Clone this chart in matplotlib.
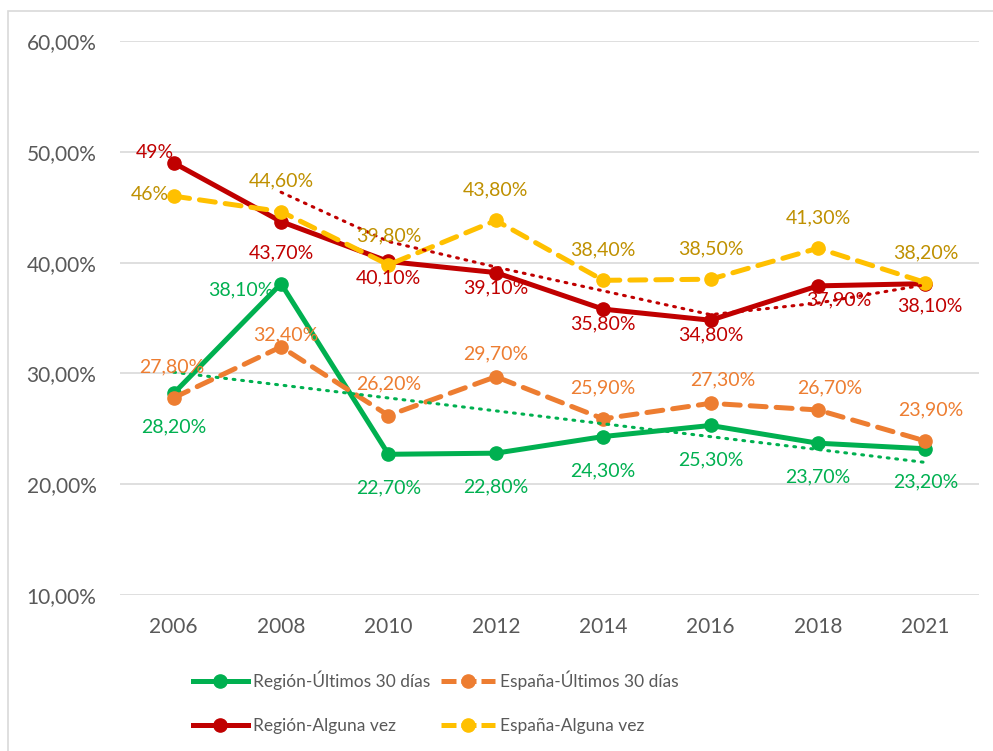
import numpy as np
import matplotlib.pyplot as plt
from matplotlib.lines import Line2D
from matplotlib.patches import Rectangle

plt.rcParams['font.family'] = ['Lato', 'DejaVu Sans']

# Datos
anios = ['2006', '2008', '2010', '2012', '2014', '2016', '2018', '2021']
region_30 = [28.2, 38.1, 22.7, 22.8, 24.3, 25.3, 23.7, 23.2]
espana_30 = [27.8, 32.4, 26.2, 29.7, 25.9, 27.3, 26.7, 23.9]
region_alguna = [49.0, 43.7, 40.1, 39.1, 35.8, 34.8, 37.9, 38.1]
espana_alguna = [46.0, 44.6, 39.8, 43.8, 38.4, 38.5, 41.3, 38.2]

# Colores
c_verde = '#00B050'
c_naranja = '#ED7D31'
c_rojo = '#C00000'
c_amarillo = '#FFC000'
c_texto = '#595959'

fig = plt.figure(figsize=(9.93, 7.51), dpi=100)
ax = fig.add_axes([120 / 993, 1 - 595 / 751, 859 / 993, 554 / 751])

x = np.arange(len(anios))
lw = 3.6
ms = 9.5
guion = (0, (3.2, 2.0))

ax.plot(x, region_30, color=c_verde, lw=lw, marker='o', ms=ms, zorder=3)
ax.plot(x, espana_30, color=c_naranja, lw=lw, ls=guion, marker='o', ms=ms,
        dash_capstyle='round', zorder=3)
ax.plot(x, region_alguna, color=c_rojo, lw=lw, marker='o', ms=ms, zorder=3)
ax.plot(x, espana_alguna, color=c_amarillo, lw=lw, ls=guion, marker='o', ms=ms,
        dash_capstyle='round', zorder=3)

# Lineas de tendencia
coef = np.polyfit(x, region_30, 1)
ax.plot(x, np.polyval(coef, x), color=c_verde, lw=2.2, ls=(0, (0.6, 2.2)),
        dash_capstyle='round', zorder=4)
ra = np.array(region_alguna)
media_movil = (ra[1:] + ra[:-1]) / 2
ax.plot(x[1:], media_movil, color=c_rojo, lw=2.2, ls=(0, (0.6, 2.2)),
        dash_capstyle='round', zorder=4)

# Etiquetas (desplazamientos en pixeles: dx, dy, alineacion)
def fmt(v):
    if v == int(v):
        return f"{v:.0f}%"
    return f"{v:.2f}%".replace('.', ',')

off_verde = [(0, -34, 'center'), (-8, -6, 'right'), (0, -34, 'center'), (0, -34, 'center'),
             (0, -34, 'center'), (0, -34, 'center'), (0, -34, 'center'), (0, -33, 'center')]
off_naranja = [(-2, 31, 'center'), (5, 12, 'center'), (0, 32, 'center'), (0, 23, 'center'),
               (0, 31, 'center'), (12, 23, 'center'), (12, 22, 'center'), (5, 31, 'center')]
off_rojo = [(0, 10, 'right'), (0, -31, 'center'), (0, -16, 'center'), (0, -15, 'center'),
            (0, -15, 'center'), (0, -15, 'center'), (21, -14, 'center'), (5, -22, 'center')]
off_amarillo = [(-5, 2, 'right'), (0, 31, 'center'), (0, 29, 'center'), (0, 31, 'center'),
                (0, 30, 'center'), (0, 30, 'center'), (0, 30, 'center'), (0, 30, 'center')]

series = [(region_30, off_verde, c_verde),
          (espana_30, off_naranja, c_naranja),
          (region_alguna, off_rojo, c_rojo),
          (espana_alguna, off_amarillo, '#BF9000')]
for vals, offs, col in series:
    for i, v in enumerate(vals):
        dx, dy, ha = offs[i]
        ax.annotate(fmt(v), (x[i], v), xytext=(dx * 0.72, dy * 0.72),
                    textcoords='offset points', ha=ha, va='center',
                    color=col, fontsize=14, zorder=5)

ax.set_xlim(-0.5, len(anios) - 0.5)
ax.set_ylim(10, 60)
ax.set_yticks(np.arange(10, 61, 10))
ax.set_yticklabels([f"{t:.2f}%".replace('.', ',') for t in np.arange(10, 61, 10)])
ax.set_xticks(x)
ax.set_xticklabels(anios)
ax.tick_params(length=0, labelsize=15, labelcolor=c_texto)
ax.tick_params(axis='y', pad=17)
ax.tick_params(axis='x', pad=16)
ax.grid(axis='y', color='#D9D9D9', lw=1.2)
ax.set_axisbelow(True)
for s in ax.spines.values():
    s.set_visible(False)

# Leyenda
guion_ley = (0, (3.0, 1.0))
handles = [
    Line2D([], [], color=c_verde, lw=lw, marker='o', ms=ms),
    Line2D([], [], color=c_rojo, lw=lw, marker='o', ms=ms),
    Line2D([], [], color=c_naranja, lw=lw, ls=guion_ley, marker='o', ms=ms),
    Line2D([], [], color=c_amarillo, lw=lw, ls=guion_ley, marker='o', ms=ms),
]
labels = ['Región-Últimos 30 días', 'Región-Alguna vez',
          'España-Últimos 30 días', 'España-Alguna vez']
fig.legend(handles, labels, ncol=2, loc='center', bbox_to_anchor=(436 / 993, 1 - 702 / 751),
           frameon=False, fontsize=12.5, labelcolor=c_texto, handlelength=3.15,
           handletextpad=0.3, columnspacing=0.6, labelspacing=1.6)

# Borde del grafico
fig.patches.append(Rectangle((8 / 993, -0.05), 1.2, 1 - 11 / 751 + 0.05,
                             transform=fig.transFigure, fill=False,
                             edgecolor='#D9D9D9', lw=1.2))

fig.savefig('out.png', dpi=100)
